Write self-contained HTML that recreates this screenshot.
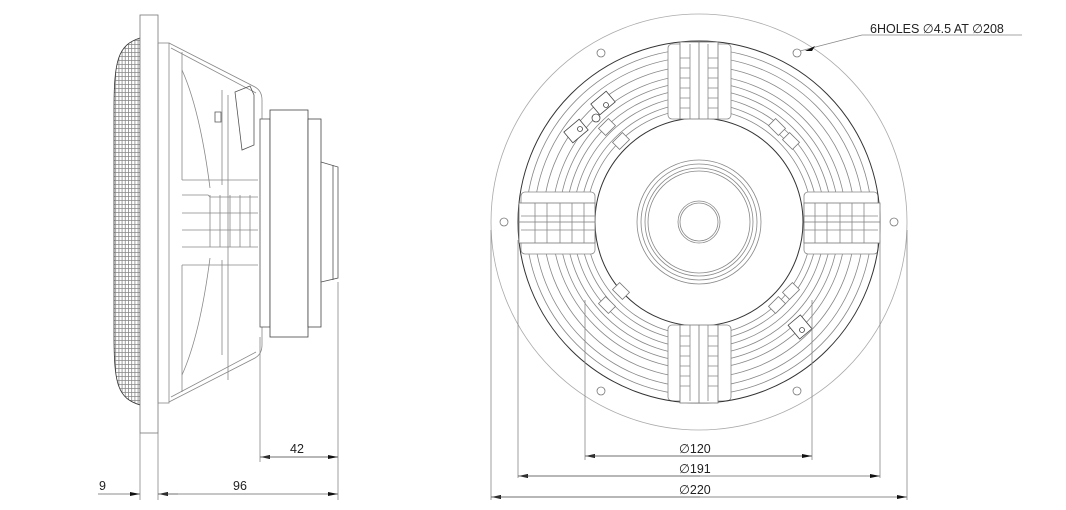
<!DOCTYPE html>
<html><head><meta charset="utf-8"><style>
html,body{margin:0;padding:0;background:#fff;width:1066px;height:510px;overflow:hidden}
svg{display:block}
text{font-family:"Liberation Sans",sans-serif;font-size:12.5px;fill:#222}
</style></head><body>
<svg width="1066" height="510" viewBox="0 0 1066 510" xmlns="http://www.w3.org/2000/svg">
<defs>
<pattern id="gr" width="3.2" height="4" patternUnits="userSpaceOnUse">
<rect width="3.2" height="4" fill="#fff"/>
<path d="M0.5 0V4M0 0.5H3.2" stroke="#888" stroke-width="0.8"/>
</pattern>
<marker id="a" viewBox="0 0 10 4" refX="10" refY="2" markerWidth="13" markerHeight="4" markerUnits="userSpaceOnUse" orient="auto"><path d="M0 0L10 2L0 4z" fill="#111"/></marker>
</defs>
<g fill="none" stroke="#888" stroke-width="0.8">
<!-- SIDE VIEW -->
<path d="M140 38 C118 45 114 60 114 110 L114 335 C114 385 118 398 140 405 Z" fill="url(#gr)" stroke="#333"/>
<rect x="140" y="15" width="18" height="418" fill="#fff" stroke="#777"/>
<rect x="158" y="43" width="11" height="360"/>
<path d="M169 43 L255 87 Q262 91 262 100 L262 122 M169 402 L255 358 Q262 354 262 345 L262 325"/>
<path d="M171 48 L256 93 M171 397 L256 352"/>
<path d="M182 52 V180 M182 265 V392 M182 180 H258 M182 265 H258"/>
<path d="M182 195 H208 L210 197 H258 M182 213 H208 M182 230 H258 M182 247 H258 M182 213 H258"/>
<path d="M210 195 V247 M220 195 V247 M230 195 V247 M240 195 V247 M250 195 V247"/>
<path d="M182 70 Q200 110 210 188 M182 375 Q200 335 210 258"/>
<path d="M222 90 V185 M222 260 V355 M228 95 V380"/>
<path d="M235 92 L250 86 L254 95 V145 L242 150 Z M215 112 h6 v10 h-6z" stroke="#555"/>
<rect x="260" y="119" width="10" height="208" fill="#fff" stroke="#555"/>
<rect x="270" y="110" width="38" height="227" fill="#fff" stroke="#444"/>
<rect x="308" y="119" width="13" height="208" fill="#fff" stroke="#444"/>
<path d="M321 162 L338 167 V278 L321 282 Z M333 165 V280" fill="#fff" stroke="#555"/>
<path d="M140 433 V500 M158 433 V500 M260 337 V462 M338 282 V500"/>
<!-- FRONT VIEW -->
<circle cx="699" cy="222" r="208" stroke="#aaa"/>
<circle cx="699" cy="222" r="173"/>
<circle cx="699" cy="222" r="165"/>
<circle cx="699" cy="222" r="156"/>
<circle cx="699" cy="222" r="147"/>
<circle cx="699" cy="222" r="140"/>
<circle cx="699" cy="222" r="133"/>
<circle cx="699" cy="222" r="126"/>
<circle cx="699" cy="222" r="119"/>
<circle cx="699" cy="222" r="113"/>
<!-- window gaps near spokes -->
<g fill="#fff" stroke="#888">
<rect x="668" y="44" width="63" height="75" rx="4"/>
<rect x="668" y="325" width="63" height="76" rx="4"/>
<rect x="521" y="192" width="74" height="62" rx="4"/>
<rect x="804" y="192" width="74" height="62" rx="4"/>
</g>
<circle cx="699" cy="222" r="181" stroke="#333" stroke-width="1"/>
<circle cx="699" cy="222" r="104" stroke="#333" stroke-width="1" fill="#fff"/>
<circle cx="699" cy="222" r="62"/>
<circle cx="699" cy="222" r="58"/>
<circle cx="699" cy="222" r="54"/>
<circle cx="699" cy="222" r="51"/>
<circle cx="699" cy="222" r="21"/>
<circle cx="699" cy="222" r="19"/>
<g fill="#fff" stroke="#777">
<rect x="680" y="42" width="38" height="77"/>
<rect x="680" y="325" width="38" height="78"/>
<rect x="519" y="203" width="76" height="40"/>
<rect x="804" y="203" width="76" height="40"/>
</g>
<path d="M699 41 V119 M699 325 V403 M518 222 H595 M804 222 H880" stroke="#777"/>
<path d="M680 58 h10 M680 68 h10 M680 78 h10 M680 88 h10 M680 98 h10 M680 108 h10 M708 58 h10 M708 68 h10 M708 78 h10 M708 88 h10 M708 98 h10 M708 108 h10 M690 44 V119 M708 44 V119"/>
<path d="M680 336 h10 M680 346 h10 M680 356 h10 M680 366 h10 M680 376 h10 M680 386 h10 M708 336 h10 M708 346 h10 M708 356 h10 M708 366 h10 M708 376 h10 M708 386 h10 M690 325 V401 M708 325 V401"/>
<path d="M521 216 H595 M521 230 H595 M535 203 V243 M547 203 V243 M560 203 V243 M572 203 V243 M584 203 V243"/>
<path d="M804 216 H878 M804 230 H878 M815 203 V243 M827 203 V243 M840 203 V243 M852 203 V243 M864 203 V243"/>
<g fill="#fff" stroke="#777">
<rect x="600" y="122" width="14" height="10" transform="rotate(-45 607 127)"/>
<rect x="614" y="136" width="14" height="10" transform="rotate(-45 621 141)"/>
<rect x="770" y="122" width="14" height="10" transform="rotate(45 777 127)"/>
<rect x="784" y="136" width="14" height="10" transform="rotate(45 791 141)"/>
<rect x="600" y="300" width="14" height="10" transform="rotate(45 607 305)"/>
<rect x="614" y="286" width="14" height="10" transform="rotate(45 621 291)"/>
<rect x="770" y="300" width="14" height="10" transform="rotate(-45 777 305)"/>
<rect x="784" y="286" width="14" height="10" transform="rotate(-45 791 291)"/>
</g>
<g stroke="#444" fill="#fff">
<rect x="593" y="96" width="20" height="14" transform="rotate(-40 603 103)"/>
<rect x="566" y="124" width="20" height="14" transform="rotate(-40 576 131)"/>
<circle cx="596" cy="118" r="4"/><circle cx="606" cy="105" r="2.5"/><circle cx="580" cy="129" r="2.5"/>
<rect x="792" y="318" width="16" height="18" transform="rotate(-40 800 327)"/><circle cx="802" cy="330" r="2.5"/>
</g>
<g stroke="#777">
<circle cx="894" cy="222" r="4"/><circle cx="504" cy="222" r="4"/>
<circle cx="797" cy="53" r="4"/><circle cx="601" cy="53" r="4"/>
<circle cx="797" cy="391" r="4"/><circle cx="601" cy="391" r="4"/>
</g>
<path d="M491 230 V500 M907 230 V500 M518 240 V478 M880 240 V478 M585 300 V460 M812 300 V460"/>
<path d="M862 35 H1022 M862 35 L800 51" stroke="#888"/>
</g>
<path d="M815 46 L805 51 L812 51z" fill="#111"/>
<g stroke="#666" stroke-width="0.8" fill="none">
<line x1="338" y1="457" x2="260" y2="457" marker-end="url(#a)"/>
<line x1="260" y1="457" x2="338" y2="457" marker-end="url(#a)"/>
<line x1="98" y1="494" x2="140" y2="494" marker-end="url(#a)"/>
<line x1="178" y1="494" x2="158" y2="494" marker-end="url(#a)"/>
<line x1="158" y1="494" x2="338" y2="494" marker-end="url(#a)"/>
<line x1="812" y1="456" x2="585" y2="456" marker-end="url(#a)"/>
<line x1="585" y1="456" x2="812" y2="456" marker-end="url(#a)"/>
<line x1="700" y1="476" x2="518" y2="476" marker-end="url(#a)"/>
<line x1="518" y1="476" x2="880" y2="476" marker-end="url(#a)"/>
<line x1="700" y1="497" x2="491" y2="497" marker-end="url(#a)"/>
<line x1="491" y1="497" x2="907" y2="497" marker-end="url(#a)"/>
</g>
<text x="290" y="453">42</text>
<text x="99" y="490">9</text>
<text x="233" y="490">96</text>
<text x="679" y="453">∅120</text>
<text x="679" y="473">∅191</text>
<text x="679" y="494">∅220</text>
<text x="870" y="33">6HOLES ∅4.5 AT ∅208</text>
</svg>
</body></html>
